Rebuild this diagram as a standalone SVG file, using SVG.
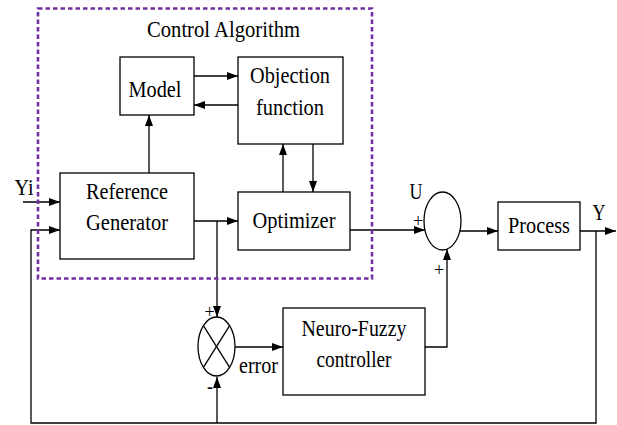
<svg xmlns="http://www.w3.org/2000/svg" width="617" height="425" viewBox="0 0 617 425">
<style>
.box{fill:#fff;stroke:#000;stroke-width:1.3}
.ln{fill:none;stroke:#000;stroke-width:1.3}
.arr{marker-end:url(#ah)}
.t{font-family:"Liberation Serif","Times New Roman",serif;font-size:23px;fill:#000;text-anchor:middle}
.s{font-family:"Liberation Serif","Times New Roman",serif;font-size:18px;fill:#000;text-anchor:middle}
.dash{fill:none;stroke:#7030A0;stroke-width:2.6;stroke-dasharray:4.5 3}
</style>
<defs>
<marker id="ah" markerUnits="userSpaceOnUse" markerWidth="12" markerHeight="10" refX="11" refY="4" orient="auto">
<path d="M0,0 L11,4 L0,8 z" fill="#000"/>
</marker>
</defs>
<rect width="617" height="425" fill="#fff"/>

<g id="connectors">
<line class="ln arr" x1="194" y1="76" x2="238" y2="76"/>
<line class="ln arr" x1="238" y1="105" x2="194" y2="105"/>
<line class="ln arr" x1="149" y1="173" x2="149" y2="115"/>
<line class="ln arr" x1="283" y1="192" x2="283" y2="144"/>
<line class="ln arr" x1="313" y1="144" x2="313" y2="192"/>
<line class="ln arr" x1="194" y1="221" x2="238" y2="221"/>
<line class="ln arr" x1="217" y1="221" x2="217" y2="317"/>
<line class="ln arr" x1="23" y1="202" x2="60" y2="202"/>
<polyline class="ln arr" points="596,231 596,423 31,423 31,230 60,230"/>
<line class="ln arr" x1="217" y1="423" x2="217" y2="377"/>
<line class="ln arr" x1="235" y1="347" x2="283" y2="347"/>
<polyline class="ln arr" points="425,347 447,347 447,249"/>
<line class="ln arr" x1="350" y1="230" x2="425" y2="230"/>
<line class="ln arr" x1="460" y1="231" x2="498" y2="231"/>
<line class="ln arr" x1="580" y1="231" x2="616" y2="231"/>
</g>

<g id="control-algorithm">
<rect class="dash" x="38" y="8.5" width="334" height="270"/>
<text class="t" x="223.5" y="37" textLength="153" lengthAdjust="spacingAndGlyphs">Control Algorithm</text>
</g>

<g id="model">
<rect class="box" x="120" y="57" width="74" height="58"/>
<text class="t" x="155" y="97" textLength="53" lengthAdjust="spacingAndGlyphs">Model</text>
</g>

<g id="objection-function">
<rect class="box" x="238" y="57" width="105" height="87"/>
<text class="t" x="290" y="83" textLength="80" lengthAdjust="spacingAndGlyphs">Objection</text>
<text class="t" x="290" y="115" textLength="68" lengthAdjust="spacingAndGlyphs">function</text>
</g>

<g id="reference-generator">
<rect class="box" x="60" y="173" width="134" height="86"/>
<text class="t" x="127" y="199" textLength="82" lengthAdjust="spacingAndGlyphs">Reference</text>
<text class="t" x="127" y="230" textLength="82" lengthAdjust="spacingAndGlyphs">Generator</text>
</g>

<g id="optimizer">
<rect class="box" x="238" y="192" width="112" height="58"/>
<text class="t" x="294" y="228" textLength="83" lengthAdjust="spacingAndGlyphs">Optimizer</text>
</g>

<g id="error-junction">
<ellipse class="ln" cx="216.5" cy="346.5" rx="18.5" ry="29.5"/>
<line class="ln" x1="203.4" y1="325.6" x2="229.6" y2="367.4"/>
<line class="ln" x1="229.6" y1="325.6" x2="203.4" y2="367.4"/>
<text class="s" x="209.5" y="318">+</text>
<text class="s" x="210" y="393" font-weight="bold">-</text>
<text class="t" x="258.5" y="373" textLength="39" lengthAdjust="spacingAndGlyphs">error</text>
</g>

<g id="neuro-fuzzy-controller">
<rect class="box" x="283" y="308" width="142" height="87"/>
<text class="t" x="354" y="336" textLength="105" lengthAdjust="spacingAndGlyphs">Neuro-Fuzzy</text>
<text class="t" x="354" y="367" textLength="75" lengthAdjust="spacingAndGlyphs">controller</text>
</g>

<g id="sum-junction">
<ellipse class="ln" cx="442.5" cy="221" rx="18.5" ry="29"/>
<text class="s" x="418" y="227">+</text>
<text class="s" x="439" y="276">+</text>
<text class="t" x="416" y="199" textLength="13" lengthAdjust="spacingAndGlyphs">U</text>
</g>

<g id="process">
<rect class="box" x="498" y="202" width="82" height="48"/>
<text class="t" x="539" y="233" textLength="62" lengthAdjust="spacingAndGlyphs">Process</text>
</g>

<g id="labels">
<text class="t" x="24" y="195" textLength="19" lengthAdjust="spacingAndGlyphs">Yi</text>
<text class="t" x="599" y="220" textLength="13" lengthAdjust="spacingAndGlyphs">Y</text>
</g>
</svg>
